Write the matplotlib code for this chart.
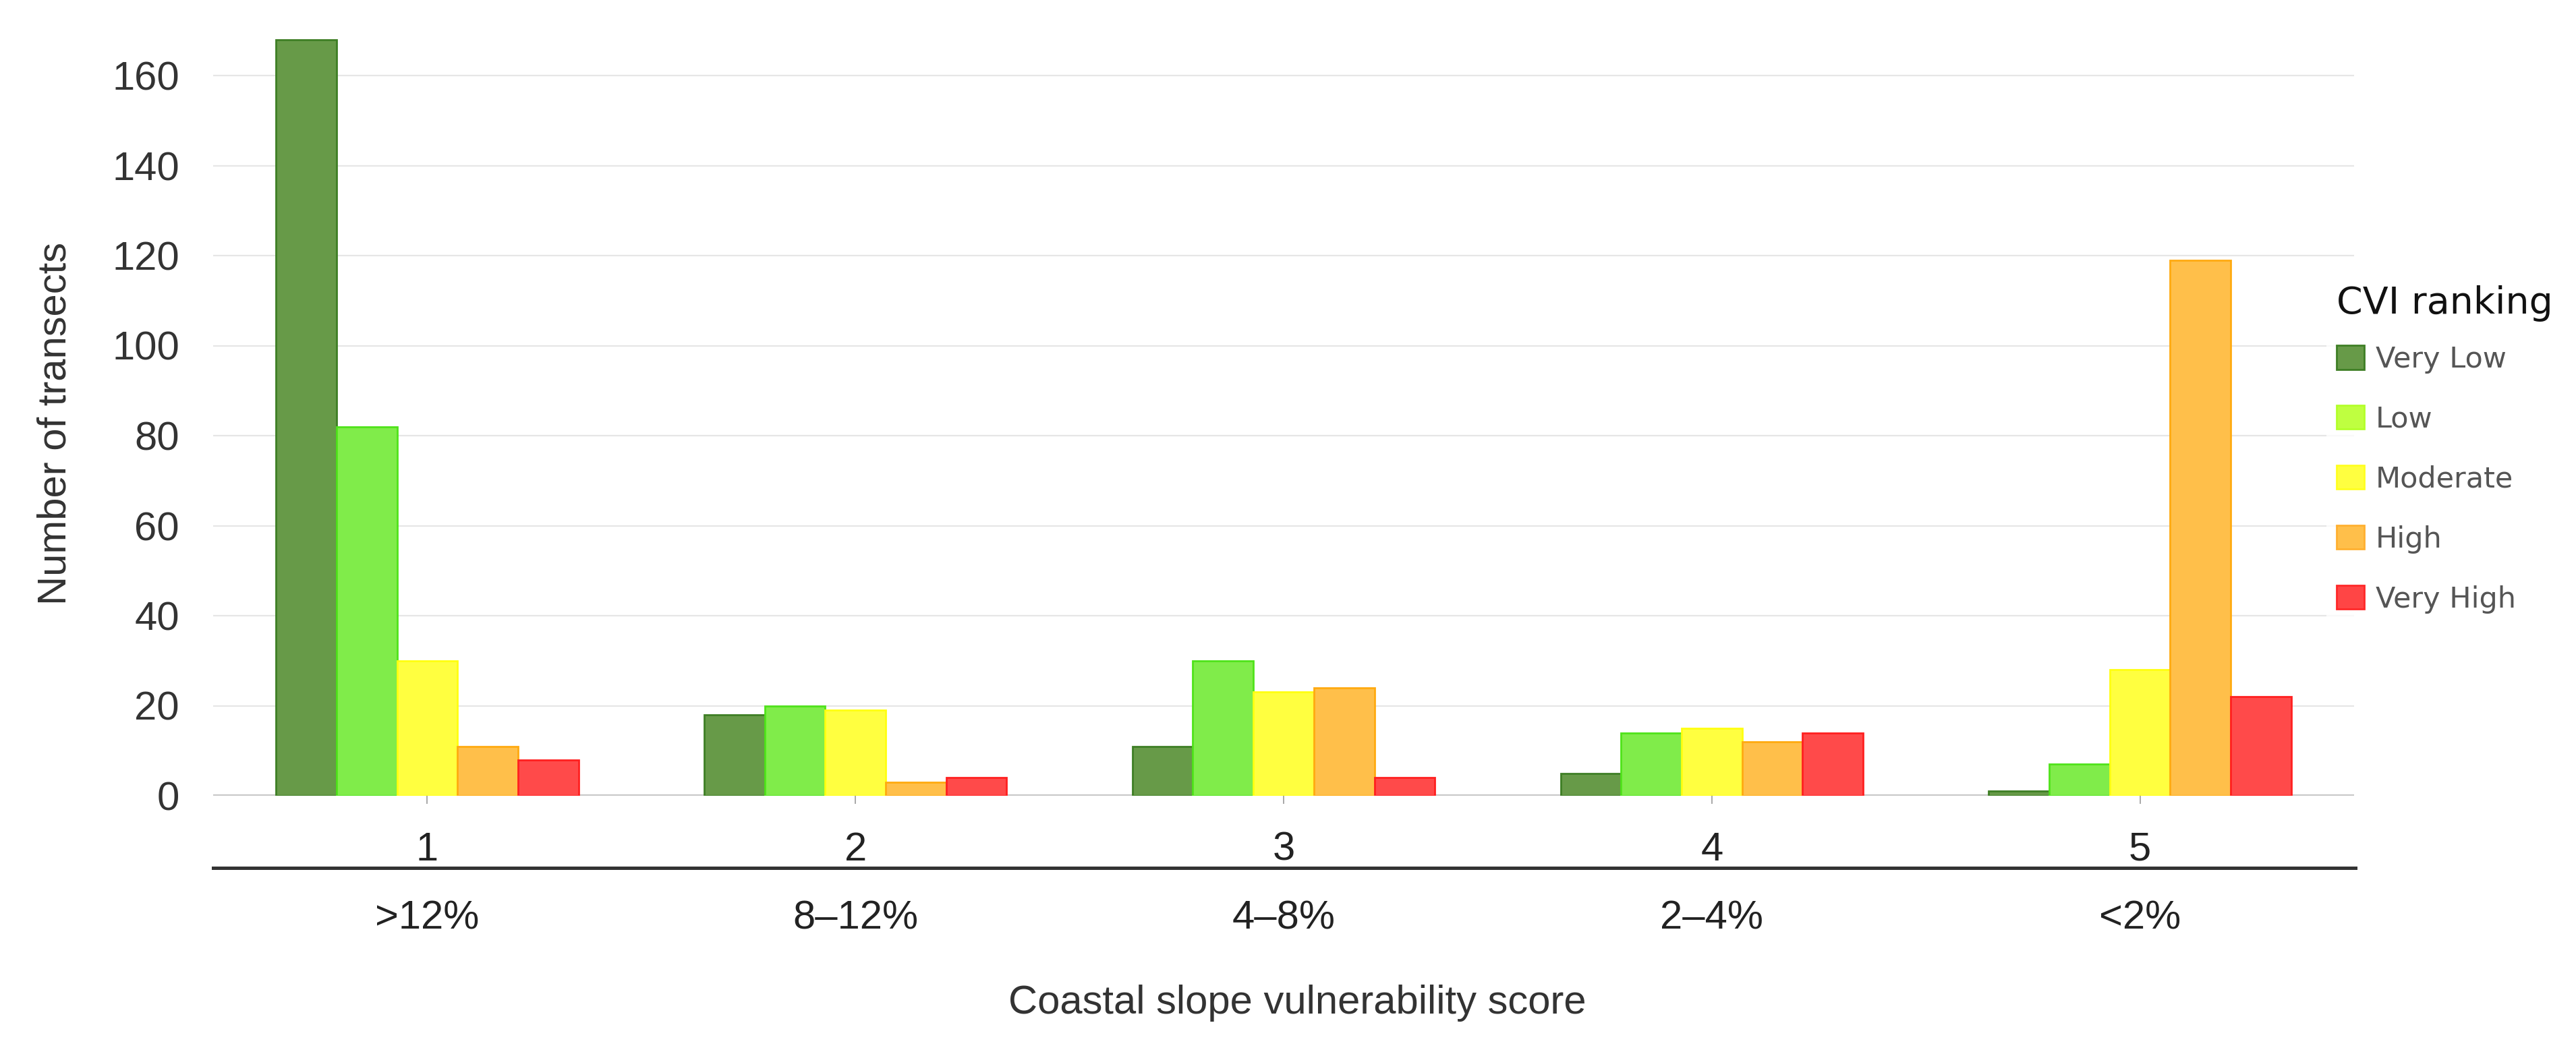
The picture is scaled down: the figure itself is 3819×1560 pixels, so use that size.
import matplotlib
matplotlib.use("Agg")
import matplotlib.pyplot as plt
from matplotlib.patches import Patch
from matplotlib.lines import Line2D
import numpy as np

# ---------------- data ----------------
scores = [1, 2, 3, 4, 5]
slope_ranges = [">12%", "8\u201312%", "4\u20138%", "2\u20134%", "<2%"]
rankings = ["Very Low", "Low", "Moderate", "High", "Very High"]
very_low = [168, 18, 11, 5, 1]
low = [82, 20, 30, 14, 7]
moderate = [30, 19, 23, 15, 28]
high = [11, 3, 24, 12, 119]
very_high = [8, 4, 4, 14, 22]
y_ticks = [0, 20, 40, 60, 80, 100, 120, 140, 160]

series = [very_low, low, moderate, high, very_high]
fill_colors = ["#679a48", "#80ec4a", "#ffff40", "#ffbf4a", "#ff4a4a"]
edge_colors = ["#3e7f25", "#4fe31a", "#ffff10", "#ffaa10", "#ff2020"]
legend_fill = ["#679a48", "#bfff40", "#ffff40", "#ffbf4a", "#ff4545"]
legend_edge = ["#3e7f25", "#b3ff2a", "#ffff20", "#ffb030", "#ff2828"]

FONT = "Liberation Sans"
FS = 43

W, H = 3819, 1560
fig = plt.figure(figsize=(W / 100, H / 100), dpi=100)
fig.patch.set_facecolor("white")

px_per_unit = (1180 - 112) / 160.0
ymax = 170
ax = fig.add_axes([316 / W, 1 - 1180 / H, (3490 - 316) / W, ymax * px_per_unit / H])
ax.set_xlim(0.5, 5.5)
ax.set_ylim(0, ymax)

bw = 0.1413
x = np.array(scores, dtype=float)
for i, vals in enumerate(series):
    ax.bar(x + (i - 2) * bw, vals, width=bw, color=fill_colors[i],
           edgecolor=edge_colors[i], linewidth=2.0, zorder=3)

for s in ax.spines.values():
    s.set_visible(False)

ax.set_yticks(y_ticks)
ax.set_yticklabels([str(v) for v in y_ticks], family=FONT, fontsize=FS, color="#333333")
ax.tick_params(axis="y", length=0, pad=36)
ax.yaxis.grid(True, color="#e6e6e6", linewidth=1.6, zorder=0)
ax.set_axisbelow(True)
ax.axhline(0, color="#c8c8c8", linewidth=3, zorder=2)

ax.set_xticks(scores)
ax.set_xticklabels([])
ax.tick_params(axis="x", length=8.5, width=1.4, color="#a8a8a8", direction="out")

unit_h = ymax * px_per_unit
def yfrac(py):
    return (1180 - py) / unit_h

trans = ax.get_xaxis_transform()
for xi, s, r in zip(scores, [str(v) for v in scores], slope_ranges):
    ax.text(xi, yfrac(1276), s, transform=trans, ha="center", va="baseline",
            family=FONT, fontsize=FS, color="#222222")
    ax.text(xi, yfrac(1378), r, transform=trans, ha="center", va="baseline",
            family=FONT, fontsize=FS, color="#222222")

fig.add_artist(Line2D([316 / W, 3492 / W], [1 - 1287 / H] * 2, color="#333333", linewidth=3.6))

fig.text(1923 / W, 1 - 1503 / H, "Coastal slope vulnerability score", ha="center", va="baseline",
         family=FONT, fontsize=FS, color="#333333")
fig.text(82 / W, 1 - 628 / H, "Number of transects", ha="center", va="center", rotation=90,
         family=FONT, fontsize=FS, color="#333333")

handles = [Patch(facecolor=legend_fill[i], edgecolor=legend_edge[i], linewidth=2.0) for i in range(5)]
leg = fig.legend(handles, rankings, loc="upper left", bbox_to_anchor=(3449 / W, 1 - 408 / H),
                 borderaxespad=0, frameon=True, fancybox=False,
                 prop={"family": "DejaVu Sans", "size": 31},
                 title="CVI ranking", title_fontproperties={"family": "DejaVu Sans", "size": 40},
                 alignment="left", handlelength=0.95, handleheight=0.88, handletextpad=0.4,
                 labelspacing=1.09, borderpad=0.35, labelcolor="#555555")
leg._legend_box.sep = 25
leg.get_frame().set_edgecolor("white")
leg.get_frame().set_linewidth(0)
leg.get_frame().set_facecolor("white")
leg.get_title().set_color("#111111")

fig.savefig("out.png", dpi=100, facecolor="white")
